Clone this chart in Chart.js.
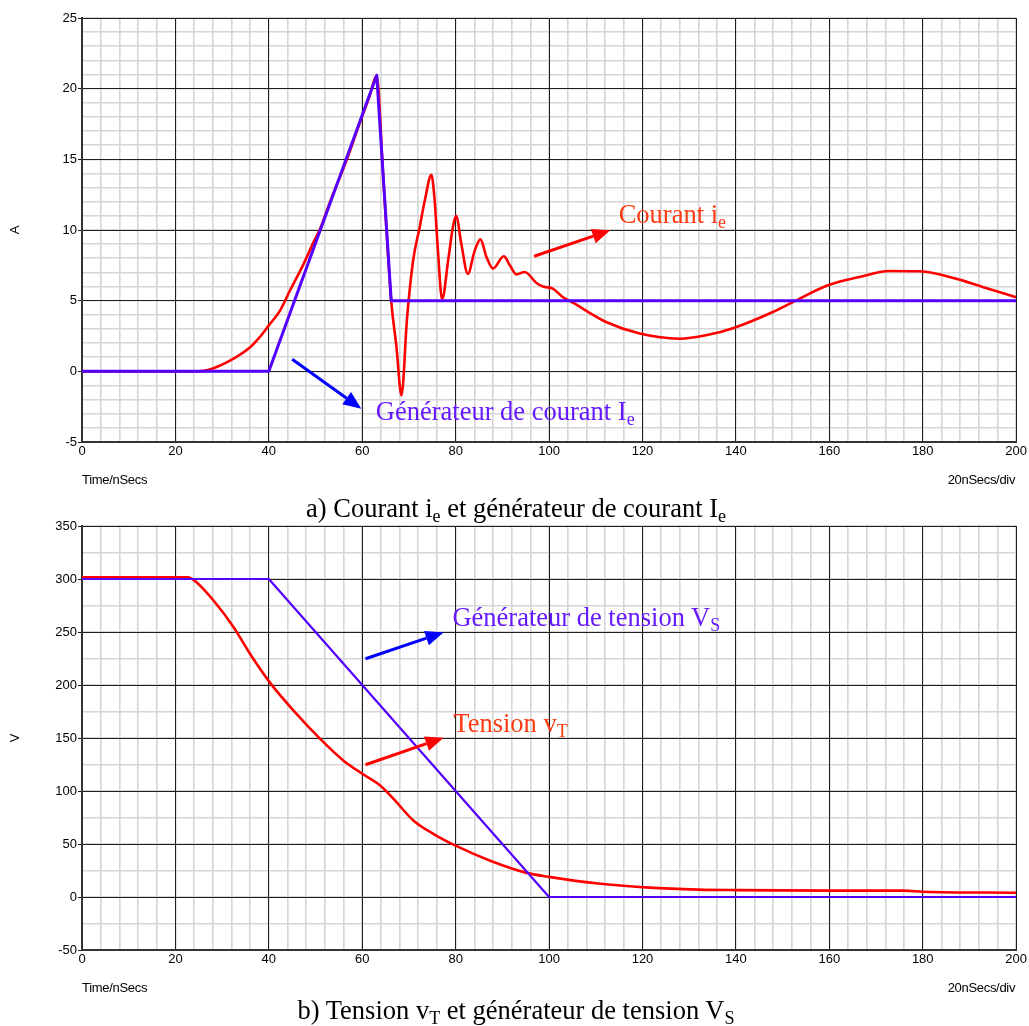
<!DOCTYPE html>
<html><head><meta charset="utf-8">
<script src="https://cdn.jsdelivr.net/npm/chart.js@4.4.1/dist/chart.umd.min.js"></script>
<style>
html,body{margin:0;padding:0;background:#fff;}
body{width:1029px;height:1026px;position:relative;overflow:hidden;font-family:'Liberation Sans',Arial,sans-serif;}
.panel{position:absolute;left:0;width:1029px;height:495px;}
.panel canvas{position:absolute;left:0;top:0;}
.note{position:absolute;font-family:'Liberation Serif','Times New Roman',serif;font-size:26.5px;white-space:nowrap;line-height:1;}
.note sub,.cap sub{font-size:68%;vertical-align:baseline;position:relative;top:0.28em;}
.axtxt{position:absolute;font-family:'Liberation Sans',Arial,sans-serif;font-size:13px;line-height:1;white-space:nowrap;color:#000;letter-spacing:-0.3px;}
.cap{position:absolute;left:0;width:1032px;text-align:center;font-family:'Liberation Serif','Times New Roman',serif;font-size:26.5px;line-height:1;color:#000;}
</style>
</head><body>
<div class="panel" id="pA" style="top:0"><canvas id="cA" width="1029" height="495"></canvas></div>
<div class="panel" id="pB" style="top:508px"><canvas id="cB" width="1029" height="495"></canvas></div>
<div class="cap" style="top:495px">a) Courant i<sub>e</sub> et générateur de courant I<sub>e</sub></div>
<div class="cap" style="top:997px">b) Tension v<sub>T</sub> et générateur de tension V<sub>S</sub></div>
<script>
// ---------- DATA ----------
const xLabelLeft = 'Time/nSecs';
const xLabelRight = '20nSecs/div';
const timeMin = 0, timeMax = 200, timeMajor = 20, timeMinor = 4;

// Panel a) : current (A)
const ampMin = -5, ampMax = 25, ampMajor = 5, ampMinor = 1;
const genITime  = [0, 40, 63.1, 66.2, 200];
const genIValue = [0, 0, 20.95, 5, 5];
const ieTime  = [0,25,28,33,36,38,40,42.4,44.5,47.3,49.8,51,53,56.6,59.5,61.5,63.1,64.5,66.2,67.3,68.4,69.6,70.9,72.3,73.4,74.8,75.5,76.2,77.1,78.4,79.4,80.1,81.2,82.6,84.1,85.3,86.6,88.0,90.3,91.6,93.0,94.8,97.3,98.7,100.8,102.9,105.5,108,112.2,119.4,127.9,133.6,139.7,147.9,152.9,159.7,166.4,172.8,179.3,187.1,192.8,200];
const ieValue = [0,0,0.2,1.0,1.7,2.4,3.25,4.3,5.7,7.5,9.3,10.1,11.9,14.9,17.6,19.4,20.9,13.7,5,1.8,-1.7,3.8,7.86,10.2,12.1,13.9,12.1,8.56,5.1,7.86,10.2,11.0,9.05,6.9,8.56,9.34,8.09,7.27,8.14,7.5,6.86,7.03,6.25,6.0,5.85,5.26,4.79,4.27,3.49,2.67,2.31,2.55,3.09,4.2,5.02,6.09,6.67,7.1,7.08,6.56,5.97,5.25];

// Panel b) : voltage (V)
const voltMin = -50, voltMax = 350, voltMajor = 50, voltMinor = 25;
const genVTime  = [0, 40, 100, 200];
const genVValue = [300, 300, 0, 0];
const vtTime  = [0,22.7,24.5,28.2,32.5,36,40.2,45.3,51,56,60.1,63.9,66.7,71,75.3,80,87.4,95,100,111,121.5,132,140,160,176,180,200];
const vtValue = [301.5,301.5,297,279.5,254.3,229.2,202.5,175.8,149.1,128.6,116,105,92.5,72,59.4,48.4,34.2,23,19,12.5,8.8,7,6.5,6,6,5,4];

// Annotations (data coordinates)
const notesA = [
  {x:114.9, y:10.47, text:'Courant i', sub:'e', color:'#ff3a12'},
  {x:62.9, y:-3.47, text:'Générateur de courant I', sub:'e', color:'#6619ff'}
];
const arrowsA = [
  {from:[96.8, 8.14], to:[113.1, 9.98], color:'#ff0000'},
  {from:[45.0, 0.85], to:[59.8, -2.64], color:'#0000ff'}
];
const notesB = [
  {x:79.3, y:256, text:'Générateur de tension V', sub:'S', color:'#6619ff'},
  {x:79.5, y:155.3, text:'Tension v', sub:'T', color:'#ff3a12'}
];
const arrowsB = [
  {from:[60.7, 224.8], to:[77.4, 249.6], color:'#0000ff'},
  {from:[60.7, 124.8], to:[77.4, 150.3], color:'#ff0000'}
];

// ---------- helpers ----------
const RED = '#ff0000', GEN = '#5500ff';
const NOTE_FS = 26.5;
const pts = (t, v) => t.map((x, i) => ({x, y: v[i]}));

const annotPlugin = {
  id: 'annot',
  afterDatasetsDraw(chart, args, opts) {
    const ctx = chart.ctx, xs = chart.scales.x, ys = chart.scales.y;
    (opts.arrows || []).forEach(a => {
      const x0 = xs.getPixelForValue(a.from[0]), y0 = ys.getPixelForValue(a.from[1]);
      const x1 = xs.getPixelForValue(a.to[0]), y1 = ys.getPixelForValue(a.to[1]);
      const ang = Math.atan2(y1 - y0, x1 - x0);
      const hl = 18, hw = 7.5;
      const bx = x1 - hl * Math.cos(ang), by = y1 - hl * Math.sin(ang);
      ctx.save();
      ctx.strokeStyle = a.color; ctx.fillStyle = a.color; ctx.lineWidth = 3; ctx.lineCap = 'butt';
      ctx.beginPath(); ctx.moveTo(x0, y0); ctx.lineTo(bx, by); ctx.stroke();
      ctx.beginPath();
      ctx.moveTo(x1, y1);
      ctx.lineTo(bx + hw * Math.sin(ang), by - hw * Math.cos(ang));
      ctx.lineTo(bx - hw * Math.sin(ang), by + hw * Math.cos(ang));
      ctx.closePath(); ctx.fill();
      ctx.restore();
    });
  },
  afterDraw(chart, args, opts) {
    const host = chart.canvas.parentNode, xs = chart.scales.x, ys = chart.scales.y, ca = chart.chartArea;
    if (!chart._annotDone) {
      chart._annotDone = true;
      (opts.notes || []).forEach(n => {
        const d = document.createElement('div');
        d.className = 'note';
        d.style.color = n.color;
        d.appendChild(document.createTextNode(n.text));
        const s = document.createElement('sub'); s.textContent = n.sub; d.appendChild(s);
        d.style.left = xs.getPixelForValue(n.x) + 'px';
        d.style.top = (ys.getPixelForValue(n.y) - 0.835 * NOTE_FS) + 'px';
        host.appendChild(d);
      });
      const l = document.createElement('div');
      l.className = 'axtxt'; l.textContent = xLabelLeft;
      l.style.left = ca.left + 'px'; l.style.top = (ca.bottom + 31) + 'px';
      host.appendChild(l);
      const r = document.createElement('div');
      r.className = 'axtxt'; r.textContent = xLabelRight;
      r.style.right = (chart.width - ca.right + 1) + 'px'; r.style.top = (ca.bottom + 31) + 'px';
      host.appendChild(r);
    }
  }
};

function makeChart(canvasId, datasets, yMin, yMax, yMajor, yMinor, yTitle, notes, arrows) {
  const tickFont = {family: "'Liberation Sans', Arial, sans-serif", size: 13};
  return new Chart(document.getElementById(canvasId), {
    type: 'line',
    data: {datasets},
    options: {
      responsive: false, animation: false, devicePixelRatio: 1,
      layout: {padding: {left: 0, right: 12, top: 18, bottom: 0}},
      plugins: {legend: {display: false}, tooltip: {enabled: false}, annot: {notes, arrows}},
      elements: {point: {radius: 0}, line: {borderJoinStyle: 'round'}},
      scales: {
        x: {
          type: 'linear', min: timeMin, max: timeMax, position: 'bottom',
          ticks: {stepSize: timeMajor, color: '#000', font: tickFont, padding: 2, autoSkip: false, maxRotation: 0},
          grid: {color: '#1e1e1e', lineWidth: 1, drawTicks: false, z: -1},
          border: {color: '#333', width: 2},
          afterFit(s) { s.height = 53; }
        },
        xm: {
          type: 'linear', min: timeMin, max: timeMax, position: 'bottom',
          ticks: {stepSize: timeMinor, display: false},
          grid: {color: '#d6d6d6', lineWidth: 1.6, drawTicks: false, z: -2},
          border: {display: false},
          afterFit(s) { s.height = 0; }
        },
        y: {
          type: 'linear', min: yMin, max: yMax, position: 'left',
          ticks: {stepSize: yMajor, color: '#000', font: tickFont, padding: 1},
          grid: {color: '#1e1e1e', lineWidth: 1, tickLength: 4, z: -1},
          border: {color: '#333', width: 2},
          title: {display: true, text: yTitle, color: '#000', font: {family: "'Liberation Sans', Arial, sans-serif", size: 13}, padding: {top: 8, bottom: 0}},
          afterFit(s) { s.width = 82; }
        },
        ym: {
          type: 'linear', min: yMin, max: yMax, position: 'left',
          ticks: {stepSize: yMinor, display: false},
          grid: {color: '#d6d6d6', lineWidth: 1.6, drawTicks: false, z: -2},
          border: {display: false},
          afterFit(s) { s.width = 0; }
        }
      }
    },
    plugins: [annotPlugin]
  });
}

makeChart('cA', [
  {label: 'Générateur de courant Ie', data: pts(genITime, genIValue), borderColor: GEN, borderWidth: 3, tension: 0, xAxisID: 'x', yAxisID: 'y'},
  {label: 'Courant ie', data: pts(ieTime, ieValue), borderColor: RED, borderWidth: 2.6, cubicInterpolationMode: 'monotone', xAxisID: 'x', yAxisID: 'y'}
], ampMin, ampMax, ampMajor, ampMinor, 'A', notesA, arrowsA);

makeChart('cB', [
  {label: 'Générateur de tension VS', data: pts(genVTime, genVValue), borderColor: GEN, borderWidth: 2.2, tension: 0, xAxisID: 'x', yAxisID: 'y'},
  {label: 'Tension vT', data: pts(vtTime, vtValue), borderColor: RED, borderWidth: 2.6, cubicInterpolationMode: 'monotone', xAxisID: 'x', yAxisID: 'y'}
], voltMin, voltMax, voltMajor, voltMinor, 'V', notesB, arrowsB);
</script>
</body></html>
